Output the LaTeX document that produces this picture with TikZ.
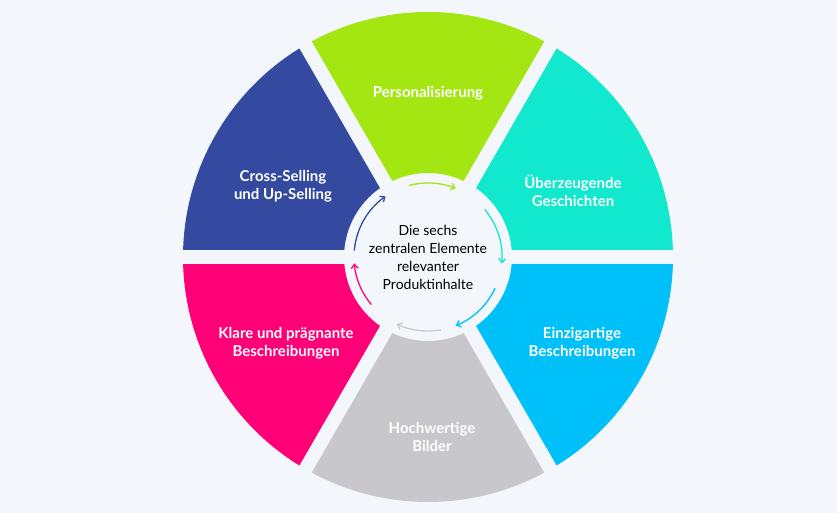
\documentclass[tikz,border=0pt]{standalone}
\usepackage{fontspec}
\setmainfont{Lato}
\usetikzlibrary{arrows.meta}
\definecolor{bg}{HTML}{F3F6FA}
\definecolor{cgreen}{HTML}{A3E612}
\definecolor{cteal}{HTML}{12E8CE}
\definecolor{cblue}{HTML}{00C0FA}
\definecolor{cgray}{HTML}{C8C8CC}
\definecolor{cpink}{HTML}{FF0077}
\definecolor{cnavy}{HTML}{344AA0}
\begin{document}
\begin{tikzpicture}[x=1pt,y=1pt]
    \tikzstyle{label}=[text=white,font=\bfseries\fontsize{15}{18}\selectfont,align=center];
    \tikzstyle{ring}=[line width=1.3pt,-{Straight Barb[length=4pt,width=7pt]}];
    \fill[bg] (0,0) rectangle (837,513);
    \coordinate (c) at (428,256);
    
    % sectors
    \foreach \a/\col in {60/cgreen,0/cteal,-60/cblue,-120/cgray,-180/cpink,-240/cnavy}{
        \fill[\col] ([shift={(\a:84pt)}]c) arc[start angle=\a,end angle=\a+60,radius=84pt]
            -- ([shift={(\a+60:245pt)}]c) arc[start angle=\a+60,end angle=\a,radius=245pt] -- cycle;
    }
    \foreach \a in {0,60,120}{
        \draw[bg,line width=14pt] ([shift={(\a:250pt)}]c) -- ([shift={(\a+180:250pt)}]c);
    }
    
    % arrows
    \foreach \s/\e/\col in {105/68/cgreen,40/-5/cteal,-25/-68/cblue,-80/-115/cgray,-140/-175/cpink,175/125/cnavy}{
        \draw[ring,\col] ([shift={(\s:74pt)}]c) arc[start angle=\s,end angle=\e,radius=74pt];
    }
    
    \node (mid) [align=center,font=\fontsize{14}{18}\selectfont] at (c) {Die sechs\\zentralen Elemente\\relevanter\\Produktinhalte};
    \node (p1) [label] at (428,420) {Personalisierung};
    \node (p2) [label] at (573,322) {Überzeugende\\Geschichten};
    \node (p3) [label] at (582,170) {Einzigartige\\Beschreibungen};
    \node (p4) [label] at (432,76) {Hochwertige\\Bilder};
    \node (p5) [label] at (286,170) {Klare und prägnante\\Beschreibungen};
    \node (p6) [label] at (283,327) {Cross-Selling\\und Up-Selling};
\end{tikzpicture}
\end{document}
